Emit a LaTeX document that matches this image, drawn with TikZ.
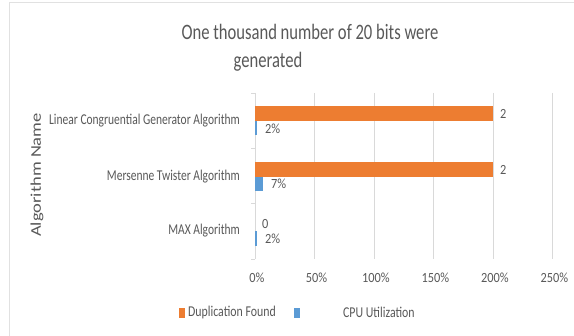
\documentclass[tikz,border=0pt]{standalone}
\usepackage{fontspec}
\setmainfont{Carlito}
\definecolor{orangebar}{HTML}{ED7D31}
\definecolor{bluebar}{HTML}{5B9BD5}
\definecolor{gridgray}{HTML}{D9D9D9}
\definecolor{txtgray}{HTML}{595959}
\begin{document}
\begin{tikzpicture}[x=1pt,y=-1pt,
  gridline/.style={draw=gridgray,line width=0.8pt},
  framel/.style={draw=gridgray!80,line width=0.8pt},
  lbl/.style={text=txtgray,inner sep=0pt},
  numlbl/.style={lbl,font=\fontsize{14}{16}\selectfont,xscale=0.88},
  catlbl/.style={lbl,anchor=east,font=\fontsize{15}{17}\selectfont,xscale=0.767},
  leglbl/.style={lbl,anchor=west,font=\fontsize{15}{17}\selectfont,xscale=0.79},
  dlbl/.style={numlbl,anchor=west},
  ticklbl/.style={numlbl,anchor=center},
  titlelbl/.style={lbl,font=\fontsize{22}{26}\selectfont,xscale=0.755},
  obar/.style={fill=orangebar,draw=none},
  bbar/.style={fill=bluebar,draw=none}]
\useasboundingbox (0,0) rectangle (574,336);
\fill[white] (0,0) rectangle (574,336);
% frame
\draw[framel] (9.5,2.5) -- (574,2.5);
\draw[framel] (9.5,2.5) -- (9.5,336);
% title
\node[titlelbl] (t1) at (310,32) {One thousand number of 20 bits were};
\node[titlelbl] (t2) at (268,62) {generated};
% gridlines
\foreach \p/\n in {0/g0,50/g50,100/g100,150/g150,200/g200,250/g250}{
  \coordinate (\n t) at ({255+1.19*\p},93);
  \coordinate (\n b) at ({255+1.19*\p},259);
  \draw[gridline] (\n t) -- (\n b);
  \node[ticklbl] (\n l) at ({255+1.19*\p+2},278) {\p\%};
}
% category ticks
\foreach \y/\n in {93/c0,148.3/c1,203.7/c2,259/c3}{
  \coordinate (\n a) at (251,\y);
  \coordinate (\n b) at (255,\y);
  \draw[gridline] (\n a) -- (\n b);
}
% bars
\path[obar] (255,106) rectangle (493,121);
\path[bbar] (255,121) rectangle (257.4,135.5);
\path[obar] (255,162) rectangle (493,177);
\path[bbar] (255,177) rectangle (263.3,191);
\path[bbar] (255,231.5) rectangle (257.4,246.5);
% data labels
\node[dlbl] (d1) at (500,114) {2};
\node[dlbl] (d2) at (265,129) {2\%};
\node[dlbl] (d3) at (500,170) {2};
\node[dlbl] (d4) at (271,184) {7\%};
\node[dlbl] (d5) at (262,224) {0};
\node[dlbl] (d6) at (265,239) {2\%};
% category labels
\node[catlbl] (k1) at (240,121) {Linear Congruential Generator Algorithm};
\node[catlbl] (k2) at (240,177) {Mersenne Twister Algorithm};
\node[catlbl] (k3) at (240,231) {MAX Algorithm};
% axis title
\node[lbl,xscale=0.8,rotate=90,font=\fontsize{18.5}{21}\selectfont] (ax) at (37,175) {Algorithm Name};
% legend
\path[obar] (179,308) rectangle (185,318);
\node[leglbl] (l1) at (188,312.5) {Duplication Found};
\path[bbar] (294,308) rectangle (300,318);
\node[leglbl] (l2) at (343,312.5) {CPU Utilization};
\end{tikzpicture}
\end{document}
